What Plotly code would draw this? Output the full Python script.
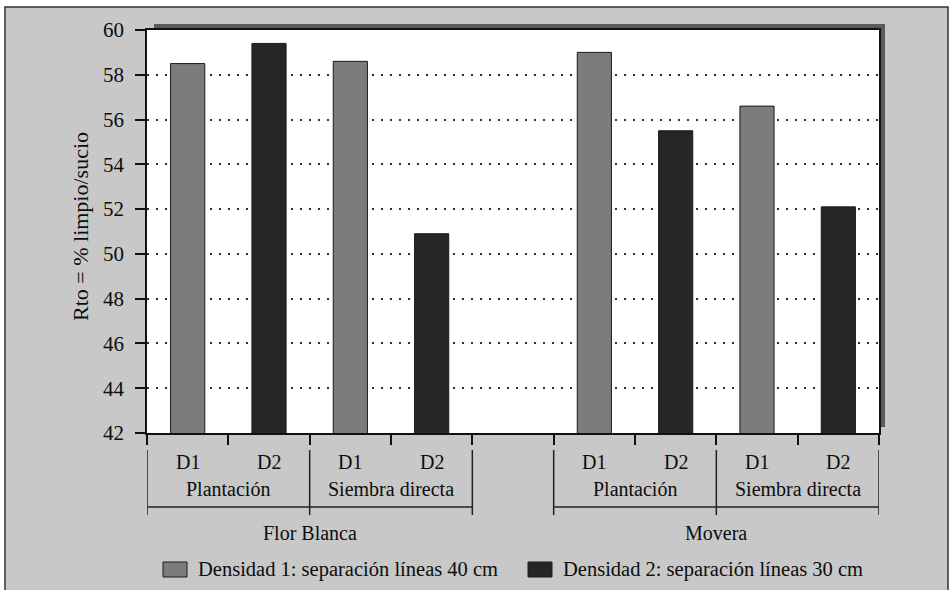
import plotly.graph_objects as go

# ---- data ----
varieties = ["Flor Blanca", "Movera"]
methods = ["Plantación", "Siembra directa"]
densities = ["D1", "D2"]
# values in order: Flor Blanca-Plantación, Flor Blanca-Siembra, Movera-Plantación, Movera-Siembra
d1_values = [58.5, 58.6, 59.0, 56.6]
d2_values = [59.4, 50.9, 55.5, 52.1]
legend_labels = ["Densidad 1: separación líneas 40 cm", "Densidad 2: separación líneas 30 cm"]
y_title = "Rto = % limpio/sucio"
y_ticks = [42, 44, 46, 48, 50, 52, 54, 56, 58, 60]

# ---- layout helpers ----
W, H = 951, 590
L, R, T, B = 147, 72, 30, 157
PW, PH = W - L - R, H - T - B
FONT = "'Liberation Serif', 'Times New Roman', Times, serif"
C1, C2 = "#7c7c7c", "#262626"
BG = "#c8c8c8"
TXT = "#0d0d0d"

def px_x(px):
    return (px - L) / PW

def px_y(py):
    return (H - B - py) / PH

n_per_var = len(methods) * len(densities)
slot_step = n_per_var + 1  # one empty slot between varieties

x_d1, x_d2, d_pos, m_pos, v_pos = [], [], [], [], []
for vi in range(len(varieties)):
    v_pos.append(vi * slot_step + (n_per_var - 1) / 2)
    for mi in range(len(methods)):
        base = vi * slot_step + mi * len(densities)
        x_d1.append(base)
        x_d2.append(base + 1)
        m_pos.append(base + 0.5)
        d_pos.extend([base, base + 1])

n_slots = len(varieties) * slot_step - 1
boundaries = [i - 0.5 for i in range(n_slots + 1)]

fig = go.Figure()
bar_line = dict(color="#1a1a1a", width=1)
fig.add_trace(go.Bar(x=x_d1, y=d1_values, width=0.42, marker=dict(color=C1, line=bar_line),
                     name=legend_labels[0], showlegend=False))
fig.add_trace(go.Bar(x=x_d2, y=d2_values, width=0.42, marker=dict(color=C2, line=bar_line),
                     name=legend_labels[1], showlegend=False))

shapes = []
# outer grey panel with border
shapes.append(dict(type="rect", xref="paper", yref="paper", x0=px_x(5), x1=px_x(948),
                   y0=px_y(600), y1=px_y(7), fillcolor=BG, line=dict(color="#333333", width=1.5),
                   layer="below"))
# shadow
shapes.append(dict(type="rect", xref="paper", yref="paper", x0=px_x(154), x1=px_x(885),
                   y0=px_y(427), y1=px_y(24), fillcolor="#5a5a5a", line=dict(width=0),
                   layer="below"))
# white plot area
shapes.append(dict(type="rect", xref="paper", yref="paper", x0=0, x1=1, y0=0, y1=1,
                   fillcolor="white", line=dict(width=0), layer="below"))

# hierarchical separators
sep_top, sep_bot, hline_y = px_y(450), px_y(515), px_y(507)
line_style = dict(color="#222222", width=1.5)
for vi in range(len(varieties)):
    start = vi * slot_step - 0.5
    for mi in range(len(methods) + 1):
        xb = start + mi * len(densities)
        shapes.append(dict(type="line", xref="x", yref="paper", x0=xb, x1=xb,
                           y0=sep_top, y1=sep_bot, line=line_style))
    shapes.append(dict(type="line", xref="x", yref="paper", x0=start, x1=start + n_per_var,
                       y0=hline_y, y1=hline_y, line=line_style))

annotations = []
tfont = dict(family=FONT, size=20, color=TXT)
for xp, lab in zip(d_pos, densities * (len(varieties) * len(methods))):
    annotations.append(dict(x=xp, y=px_y(462), xref="x", yref="paper", text=lab, showarrow=False,
                            font=tfont, xanchor="center", yanchor="middle"))
for xp, lab in zip(m_pos, methods * len(varieties)):
    annotations.append(dict(x=xp, y=px_y(489), xref="x", yref="paper", text=lab, showarrow=False,
                            font=tfont, xanchor="center", yanchor="middle"))
for xp, lab in zip(v_pos, varieties):
    annotations.append(dict(x=xp, y=px_y(533), xref="x", yref="paper", text=lab, showarrow=False,
                            font=tfont, xanchor="center", yanchor="middle"))

# custom legend
leg_items = [(163, C1), (528, C2)]
for (lx, col), lab in zip(leg_items, legend_labels):
    shapes.append(dict(type="rect", xref="paper", yref="paper", x0=px_x(lx), x1=px_x(lx + 24),
                       y0=px_y(577), y1=px_y(562), fillcolor=col,
                       line=dict(color="#1a1a1a", width=1)))
    annotations.append(dict(x=px_x(lx + 33), y=px_y(569), xref="paper", yref="paper", text=lab,
                            showarrow=False, font=dict(family=FONT, size=20.5, color=TXT),
                            xanchor="left", yanchor="middle"))

# y title
annotations.append(dict(x=px_x(81), y=px_y(227), xref="paper", yref="paper", text=y_title,
                        showarrow=False, textangle=-90, font=dict(family=FONT, size=22, color=TXT),
                        xanchor="center", yanchor="middle"))

fig.update_layout(
    width=W, height=H,
    margin=dict(l=L, r=R, t=T, b=B, autoexpand=False),
    paper_bgcolor="white", plot_bgcolor="rgba(0,0,0,0)",
    barmode="overlay", showlegend=False,
    shapes=shapes, annotations=annotations,
    font=dict(family=FONT, color=TXT),
)
fig.update_xaxes(range=[-0.5, n_slots - 0.5], tickmode="array", tickvals=boundaries,
                 ticktext=[""] * len(boundaries), ticks="outside", ticklen=10, tickwidth=1.5,
                 tickcolor="#111111", showgrid=False, zeroline=False, showline=True,
                 linecolor="#111111", linewidth=1.5, mirror=True, showticklabels=False)
fig.update_yaxes(range=[y_ticks[0], y_ticks[-1]], tickmode="array", tickvals=y_ticks,
                 ticks="outside", ticklen=10, tickwidth=1.5, tickcolor="#111111",
                 showgrid=True, gridcolor="#333333", gridwidth=2, griddash="2px,7px",
                 zeroline=False, showline=True, linecolor="#111111", linewidth=1.5, mirror=True,
                 tickfont=dict(family=FONT, size=21, color=TXT), ticklabelstandoff=7)

fig.write_html("out.html", config={"displayModeBar": False},
               post_script="document.body.style.margin='0';document.body.style.padding='0';")
